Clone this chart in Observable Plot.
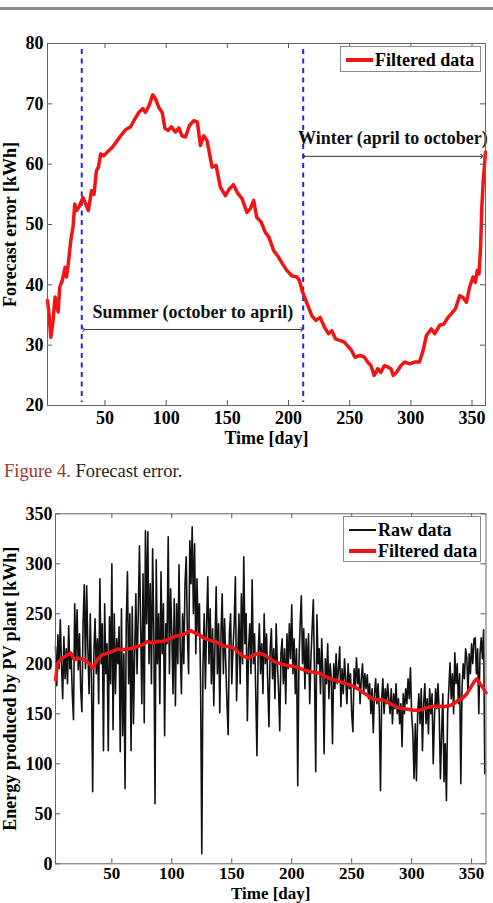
<!DOCTYPE html>
<html>
<head>
<meta charset="utf-8">
<script src="https://cdn.jsdelivr.net/npm/d3@7"></script>
<script src="https://cdn.jsdelivr.net/npm/@observablehq/plot@0.6"></script>
<style>
  body { margin: 0; background: #fff; }
  #page { position: relative; width: 493px; height: 903px; overflow: hidden; background: #fff; font-family: "Liberation Serif", "Times New Roman", serif; }
  #page svg { position: absolute; left: 0; overflow: visible; }
  .toprule { position: absolute; left: 0; top: 7px; width: 493px; height: 2.5px; background: #8c8c8c; }
  .legend { position: absolute; border: 1px solid #8a8a8a; background: #fff; font-weight: bold; font-size: 18px; color: #000; box-sizing: border-box; }
  .legend .swatch { position: absolute; }
  .legend .lab { position: absolute; line-height: 18px; white-space: nowrap; }
  .caption { position: absolute; left: 4px; top: 461px; font-size: 18.5px; line-height: 20px; color: #231f20; white-space: nowrap; }
  .caption .fig { color: #a0353a; }
</style>
</head>
<body>
<div id="page">
  <div class="toprule"></div>
  <div class="caption"><span class="fig">Figure 4.</span> Forecast error.</div>
</div>
<script>
// ---------- data ----------
const dayTicks = [50, 100, 150, 200, 250, 300, 350];
const errorTicks = [20, 30, 40, 50, 60, 70, 80];
const energyTicks = [0, 50, 100, 150, 200, 250, 300, 350];

// Figure 4: filtered forecast error [kWh]
const errorDay = [3, 4.3, 5.7, 7.6, 9.2, 11.7, 13, 15, 17.4, 18.5, 20, 22, 23.9, 25.3, 26.6, 28.8, 32, 34.2, 36.4, 39, 41, 43, 44.6, 46.5, 49, 52, 56, 60, 62.8, 66.8, 71, 73.6, 77.7, 81, 83, 86, 89, 91.3, 94, 96.7, 99, 101.6, 104.3, 107.6, 110.3, 113, 115.8, 119, 122.6, 125.5, 128, 130.7, 133.4, 137.5, 140.8, 144.3, 148.4, 151.6, 155, 158.7, 162, 166, 168.7, 171.5, 174, 177.7, 181, 184, 187.8, 191.8, 195, 198.6, 202.7, 206.8, 209, 211, 213.6, 216.3, 219, 222.3, 225.8, 229.3, 232.6, 235.3, 238.6, 242, 245.6, 249, 251.6, 254.3, 258.4, 262, 264.7, 267.4, 270, 273, 275.5, 278.3, 281, 283.7, 285.6, 288.3, 291.8, 295, 299, 303, 307, 310, 312.7, 316.8, 319.5, 323.6, 327, 330.4, 333, 336.4, 339.9, 342.6, 345.4, 348, 350.8, 352.7, 354.3, 355.7, 357, 358, 359.2, 361];
const errorValue = [37.4, 35, 31.3, 34.1, 38, 35.5, 39.6, 40.7, 42.9, 41.3, 43.5, 47.3, 49.6, 53.4, 52.3, 52.9, 54.5, 53.4, 52.3, 55.6, 55, 58.9, 59.5, 61.7, 61.4, 62, 62.8, 63.9, 64.7, 65.7, 66.2, 67.2, 68.6, 69.2, 68.6, 69.7, 71.5, 70.8, 69.4, 68.6, 65.9, 65.6, 66.2, 65.3, 66, 64.7, 64.5, 66.4, 67.2, 67, 63.1, 64.7, 63.9, 59.5, 59.8, 56.2, 54.8, 55.9, 56.6, 55.1, 54.3, 52, 52.6, 54, 51.2, 50.4, 48.7, 47.9, 45.7, 44.6, 43.5, 42.4, 41.5, 41.3, 40.7, 39.1, 37.7, 36.3, 34.9, 34.1, 34.6, 33, 31.9, 32.4, 31, 30.8, 30.5, 29.7, 29.1, 28, 28.3, 28, 27.2, 26.6, 25, 26.1, 25.5, 26.6, 26.4, 26.1, 25, 25.5, 26.6, 27.2, 26.9, 27.2, 27.2, 29.1, 31.6, 32.7, 31.9, 33.3, 33.5, 34.6, 35.2, 36, 38.2, 37.9, 37.1, 39.6, 41.3, 40.4, 42.4, 41.8, 46.2, 52.9, 57.3, 62];

const seasonBoundaries = [31, 212];
const seasonLabels = ["Summer (october to april)", "Winter (april to october)"];
const seasonFrom = [32.6, 212.6];
const seasonTo = [211, 358];
const seasonArrowLevel = [32.6, 61.3];
const seasonTextLevel = [35.45, 64.25];

// Second figure: energy produced by PV plant [kWh], daily raw values from day 3 to day 361
const rawFirstDay = 3;
const rawEnergy = [
  217,178,229,195,244,200,165,227,185,215,
  180,238,195,210,170,144,260,205,254,194,
  230,175,152,240,279,195,278,215,170,250,
  185,72,211,245,190,225,160,285,200,240,
  113,260,190,220,113,247,180,300,134,250,
  170,225,200,237,112,255,128,210,75,240,
  292,180,250,113,257,140,210,270,190,250,
  318,240,160,290,141,333,240,332,200,280,
  180,315,230,60,304,200,250,160,292,210,
  260,128,240,220,327,190,275,230,170,265,
  158,260,200,299,215,170,250,200,280,307,
  230,190,323,280,337,250,320,210,285,230,
  260,180,10,200,250,175,240,287,200,255,
  180,235,158,220,277,190,240,151,230,270,
  190,245,200,160,129,230,250,180,215,240,
  287,163,210,250,180,270,200,307,220,250,
  143,215,240,190,284,200,230,170,108,210,
  240,190,220,170,250,200,230,180,137,215,
  235,185,215,165,240,200,175,133,210,225,
  180,215,160,230,195,240,205,259,190,225,
  170,215,78,200,240,268,200,235,175,225,
  190,230,160,205,235,264,190,92,249,200,
  215,170,225,190,110,205,180,220,165,200,
  185,120,200,175,210,180,195,217,157,195,
  170,205,185,160,200,175,190,150,132,195,
  175,206,180,195,160,185,200,170,190,175,
  189,165,180,150,175,131,170,185,160,180,
  155,73,165,185,150,175,160,180,165,150,
  175,140,170,155,180,150,165,140,160,117,
  170,150,175,160,185,165,196,150,130,85,
  140,83,150,170,140,175,113,160,180,140,
  165,130,175,150,170,100,145,175,155,180,
  150,85,130,170,82,120,63,150,175,201,
  165,190,150,211,180,200,160,190,80,175,
  200,185,215,206,170,210,190,220,200,225,
  226,190,215,150,210,226,205,234,90
];

const filteredDay = [3, 4.7, 8.9, 13, 15.8, 18.6, 22.8, 27, 31, 33.9, 38, 42, 46.4, 50.5, 54.7, 59, 63, 67, 71.4, 75.6, 79.7, 84, 88, 92, 96.4, 100.5, 104.7, 109, 113, 115.8, 118.6, 122.8, 127, 131, 135, 139.4, 143.6, 147.8, 152, 156, 160, 164.4, 168.6, 172.8, 177, 181, 185, 189.4, 193.6, 197.8, 202, 206, 210, 214.4, 218.6, 222.8, 227, 231, 235.3, 239.4, 243.6, 247.8, 252, 256, 260, 264.4, 268.6, 272.8, 277, 281, 285, 289.4, 293.6, 297.8, 302, 306, 310.3, 314.4, 318.6, 322.8, 327, 331, 334, 338, 342, 346, 349, 352, 354.5, 357, 359.5, 362];
const filteredEnergy = [184, 200.7, 205.7, 209, 210.7, 204, 205.7, 204, 200.7, 195.8, 204, 209, 210.7, 212.3, 214.7, 214, 214.7, 215.7, 217.3, 219, 222.3, 220.6, 222.3, 222.3, 224, 226.6, 228, 229, 231.3, 233.3, 231.3, 229, 225.6, 224, 222.3, 220.6, 217.3, 217.3, 215.7, 210.7, 207.4, 205.7, 209, 210.7, 209, 205.7, 202.4, 200.7, 199, 198, 197.4, 195.8, 194, 192.4, 191.4, 190.8, 188, 185.8, 184, 182.5, 180.8, 179.2, 177.5, 174.2, 170.9, 167.5, 164.2, 164.2, 163.6, 160.9, 158.3, 155.9, 155, 154.3, 153.6, 153.6, 155, 156.6, 157.6, 157.6, 157, 158, 159.3, 163, 165, 170, 176, 182, 185, 180, 176, 171];

// ---------- tables ----------
const errorRows = errorDay.map((d, i) => ({day: d, value: errorValue[i]}));
const seasonRows = seasonLabels.map((l, i) => ({label: l, from: seasonFrom[i], to: seasonTo[i], arrow: seasonArrowLevel[i], text: seasonTextLevel[i]}));
const rawRows = rawEnergy.map((v, i) => ({day: rawFirstDay + i, value: v}));
const filteredRows = filteredDay.map((d, i) => ({day: d, value: filteredEnergy[i]}));

const RED = "#f01414";
const FONT = "'Liberation Serif', 'Times New Roman', serif";
const TICK = 5;

function frameTicks(xt, yt, plotW, plotH) {
  const s = {stroke: "#555", strokeWidth: 1};
  return [
    Plot.ruleX(xt, {...s, insetTop: plotH - TICK}),
    Plot.ruleX(xt, {...s, insetBottom: plotH - TICK}),
    Plot.ruleY(yt, {...s, insetRight: plotW - TICK}),
    Plot.ruleY(yt, {...s, insetLeft: plotW - TICK})
  ];
}

// ---------- top chart ----------
{
  const W = 493, H = 450, mL = 47, mR = 8, mT = 43, mB = 45;
  const chart = Plot.plot({
    width: W, height: H,
    marginLeft: mL, marginRight: mR, marginTop: mT, marginBottom: mB,
    style: {fontFamily: FONT, fontSize: "18px", fontWeight: "bold", color: "#000", background: "transparent"},
    x: {domain: [3, 361]},
    y: {domain: [20, 80]},
    marks: [
      Plot.ruleX(seasonBoundaries, {stroke: "#2323e6", strokeWidth: 2, strokeDasharray: "5,4.5", insetTop: 6, insetBottom: 3}),
      Plot.line(errorRows, {x: "day", y: "value", stroke: RED, strokeWidth: 3.5, strokeLinejoin: "round"}),
      Plot.link(seasonRows, {x1: "from", x2: "to", y1: "arrow", y2: "arrow", stroke: "#333", strokeWidth: 1, markerStart: "arrow", markerEnd: "arrow"}),
      Plot.text(seasonRows, {x: d => (d.from + d.to) / 2, y: "text", text: "label", fontSize: 18, fontWeight: "bold", fill: "#111"}),
      ...frameTicks(dayTicks, errorTicks, W - mL - mR, H - mT - mB),
      Plot.frame({stroke: "#666", strokeWidth: 1}),
      Plot.axisX(dayTicks, {tickSize: 0, tickPadding: 6, label: "Time [day]", labelAnchor: "center", labelArrow: "none", labelOffset: 38}),
      Plot.axisY(errorTicks, {tickSize: 0, tickPadding: 4, label: "Forecast error [kWh]", labelAnchor: "center", labelArrow: "none", labelOffset: 44})
    ]
  });
  chart.style.top = "0px";
  document.getElementById("page").appendChild(chart);
}

// ---------- bottom chart ----------
{
  const W = 493, H = 423, mL = 55, mR = 7.5, mT = 33.3, mB = 39.7;
  const chart = Plot.plot({
    width: W, height: H,
    marginLeft: mL, marginRight: mR, marginTop: mT, marginBottom: mB,
    style: {fontFamily: FONT, fontSize: "17px", fontWeight: "bold", color: "#000", background: "transparent"},
    x: {domain: [3, 362]},
    y: {domain: [0, 350]},
    marks: [
      Plot.line(rawRows, {x: "day", y: "value", stroke: "#111", strokeWidth: 1.6, strokeLinejoin: "round"}),
      Plot.line(filteredRows, {x: "day", y: "value", stroke: RED, strokeWidth: 3.5, strokeLinejoin: "round"}),
      ...frameTicks(dayTicks, energyTicks, W - mL - mR, H - mT - mB),
      Plot.frame({stroke: "#666", strokeWidth: 1}),
      Plot.axisX(dayTicks, {tickSize: 0, tickPadding: 3, label: "Time [day]", labelAnchor: "center", labelArrow: "none", labelOffset: 35.5}),
      Plot.axisY(energyTicks, {tickSize: 0, tickPadding: 3, label: "Energy produced by PV plant [kWh]", labelAnchor: "center", labelArrow: "none", labelOffset: 52, fontSize: 18})
    ]
  });
  chart.style.top = "480px";
  document.getElementById("page").appendChild(chart);
}

// ---------- legends ----------
function legend(box, entries) {
  const el = document.createElement("div");
  el.className = "legend";
  Object.assign(el.style, {left: box[0] + "px", top: box[1] + "px", width: box[2] + "px", height: box[3] + "px"});
  for (const e of entries) {
    const sw = document.createElement("div");
    sw.className = "swatch";
    Object.assign(sw.style, {left: "5px", width: "27px", top: (e.cy - e.w / 2) + "px", height: e.w + "px", background: e.color});
    el.appendChild(sw);
    const lb = document.createElement("div");
    lb.className = "lab";
    lb.textContent = e.label;
    Object.assign(lb.style, {left: "34px", top: (e.cy - 9) + "px"});
    el.appendChild(lb);
  }
  document.getElementById("page").appendChild(el);
}
legend([340, 46, 141, 26], [{label: "Filtered data", color: RED, w: 4, cy: 12.5}]);
legend([343, 516, 138, 46], [{label: "Raw data", color: "#111", w: 1.8, cy: 13}, {label: "Filtered data", color: RED, w: 4, cy: 33.5}]);
</script>
</body>
</html>
